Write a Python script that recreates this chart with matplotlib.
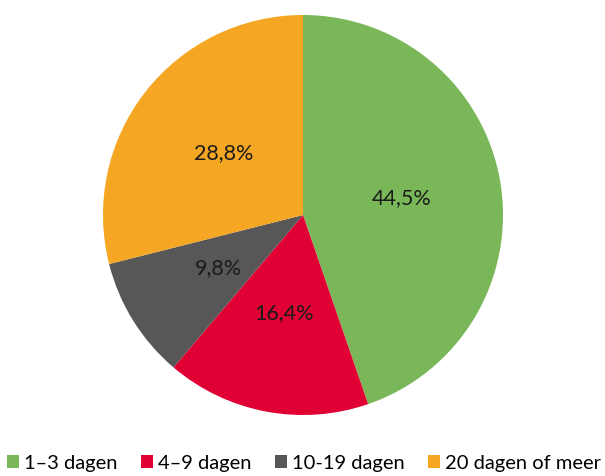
import matplotlib
matplotlib.use("Agg")
import matplotlib.pyplot as plt
from matplotlib.patches import Patch
import numpy as np

categories = ["1–3 dagen", "4–9 dagen", "10-19 dagen", "20 dagen of meer"]
values = [44.5, 16.4, 9.8, 28.8]
colors = ["#7ab758", "#e00034", "#575757", "#f5a623"]

plt.rcParams['font.family'] = ['Lato', 'DejaVu Sans']

fig = plt.figure(figsize=(6.05, 4.76), dpi=100)
ax = fig.add_axes([103/605, 61/476, 400/605, 400/476])
wedges, texts = ax.pie(values, colors=colors, startangle=90, counterclock=False,
                       radius=1.0, wedgeprops=dict(linewidth=0))
ax.set_xlim(-1, 1)
ax.set_ylim(-1, 1)
ax.set_aspect('equal')

total = sum(values)
theta = 90.0
for v, w in zip(values, wedges):
    mid = theta - v / total * 360 / 2
    theta -= v / total * 360
    r = 0.5
    ax.text(r * np.cos(np.radians(mid)), r * np.sin(np.radians(mid)),
            f"{v:.1f}%".replace(".", ","), ha="center", va="center",
            fontsize=15.5, color="#1a1a1a")

handles = [Patch(facecolor=c, edgecolor='none') for c in colors]
fig.legend(handles, categories, loc="center left", bbox_to_anchor=(0.012, 13/476),
           ncol=4, frameon=False, fontsize=14.5, handlelength=0.6, handleheight=0.6,
           handletextpad=0.25, columnspacing=1.15, borderaxespad=0, borderpad=0)

fig.savefig("out.png", dpi=100)
